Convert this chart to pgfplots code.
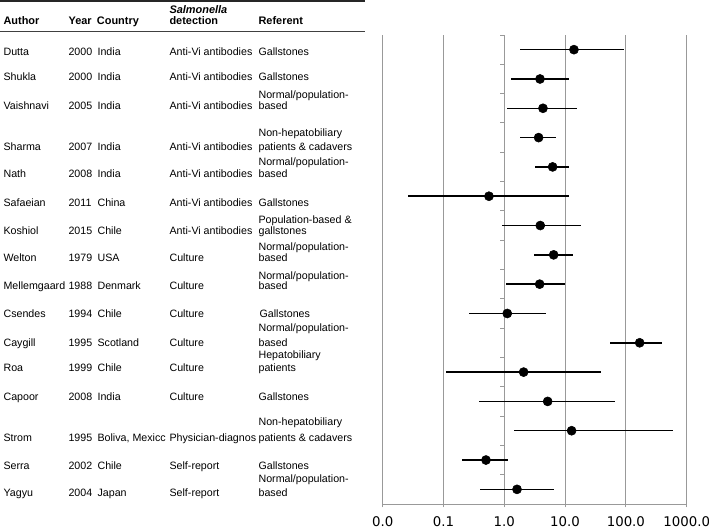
\documentclass[border=0pt]{standalone}
\usepackage{pgfplots}
\usepackage{pgfplotstable}
\pgfplotsset{compat=1.18}
\usepackage{fontspec}
\setmainfont{Liberation Sans}
\newfontfamily\tickfont{DejaVu Sans}

\pgfplotstableread{
row est lo hi
15.5 14.0 1.81 93
14.5 3.87 1.29 11.7
13.5 4.33 1.11 15.9
12.5 3.67 1.81 7.08
11.5 6.24 3.24 11.5
10.5 0.56 0.026 11.5
9.5 3.91 0.906 18.3
8.5 6.49 3.04 13.6
7.5 3.82 1.05 9.85
6.5 1.12 0.263 4.79
5.5 168.7 54.7 388
4.5 2.08 0.11 38.5
3.5 5.17 0.384 66.2
2.5 12.8 1.46 602
1.5 0.50 0.20 1.16
0.5 1.62 0.398 6.49
}\datatable

\begin{document}
\begin{tikzpicture}[x=0.75pt,y=-0.75pt,
  txt/.style={anchor=mid west, inner sep=0pt, font=\fontsize{8}{9.6}\selectfont},
  hdr/.style={anchor=mid west, inner sep=0pt, font=\fontsize{8.2}{9.6}\selectfont\bfseries}]
\path[use as bounding box] (0,0) rectangle (709,528);
\begin{axis}[
  at={(287pt,-378pt)}, anchor=south west,
  scale only axis, width=228pt, height=351.75pt,
  xmode=log, xmin=0.01, xmax=1000,
  ymin=0, ymax=16,
  axis x line*=bottom, axis y line=none,
  ytick=\empty,
  xtick={0.01,0.1,1,10,100,1000},
  xticklabels={0.0,0.1,1.0,10.0,100.0,1000.0},
  xminorticks=false,
  xmajorgrids, grid style={gray!80, line width=0.75pt},
  x axis line style={gray!80, line width=0.75pt},
  xtick style={gray!80, line width=0.75pt},
  tick align=outside, major tick length=2.5pt,
  xticklabel style={font=\tickfont\fontsize{10}{12}\selectfont, yshift=-3.5pt},
  clip=false,
]
\pgfplotsinvokeforeach{0,...,16}{
  \draw[gray!80, line width=0.75pt] (axis cs:1,#1) -- ++(-3.2pt,0pt);
}
\addplot[black, only marks, mark=*, mark size=3.4pt,
  error bars/.cd, x dir=both, x explicit, error mark=none,
  error bar style={line width=1.1pt, black}]
  table[x=est, y=row,
    x error plus expr=\thisrow{hi}-\thisrow{est},
    x error minus expr=\thisrow{est}-\thisrow{lo}] {\datatable};
\end{axis}

% table rules
\draw[line width=1.5pt, black!85] (0,1) -- (365,1);
\draw[line width=1.1pt, black!75] (0,31.7) -- (365,31.7);

% header
\node[anchor=mid west, inner sep=0pt, font=\fontsize{8.2}{9.6}\selectfont\bfseries\itshape] at (169.3,10) {Salmonella};
\node[hdr] at (169.3,21) {detection};
\node[hdr] at (3.3,21.3) {Author};
\node[hdr] at (68.3,21.3) {Year};
\node[hdr] at (96.7,21.3) {Country};
\node[hdr] at (258.3,21) {Referent};

% rows
\foreach \y/\a/\yr/\c/\d in {
  51.7/Dutta/2000/India/Anti-Vi antibodies,
  77.3/Shukla/2000/India/Anti-Vi antibodies,
  106/Vaishnavi/2005/India/Anti-Vi antibodies,
  146.7/Sharma/2007/India/Anti-Vi antibodies,
  174/Nath/2008/India/Anti-Vi antibodies,
  202.7/Safaeian/2011/China/Anti-Vi antibodies,
  231/Koshiol/2015/Chile/Anti-Vi antibodies,
  258.3/Welton/1979/USA/Culture,
  286/Mellemgaard/1988/Denmark/Culture,
  314/Csendes/1994/Chile/Culture,
  342.7/Caygill/1995/Scotland/Culture,
  368.3/Roa/1999/Chile/Culture,
  396.7/Capoor/2008/India/Culture,
  438.3/Strom/1995/{Boliva, Mexicc}/Physician-diagnos,
  466/Serra/2002/Chile/Self-report,
  493.3/Yagyu/2004/Japan/Self-report}{
  \node[txt] at (3.3,\y) {\a};
  \node[txt] at (68.3,\y) {\yr};
  \node[txt] at (97.3,\y) {\c};
  \node[txt] at (169.3,\y) {\d};
}

% referent column
\node[txt] at (258.3,51.7) {Gallstones};
\node[txt] at (258.3,77.3) {Gallstones};
\node[txt] at (258.3,94.7) {Normal/population-};
\node[txt] at (258.3,106) {based};
\node[txt] at (258.3,133.3) {Non-hepatobiliary};
\node[txt] at (258.3,146.7) {patients \& cadavers};
\node[txt] at (258.3,162) {Normal/population-};
\node[txt] at (258.3,174) {based};
\node[txt] at (258.3,202.7) {Gallstones};
\node[txt] at (258.3,220) {Population-based \&};
\node[txt] at (258.3,231) {gallstones};
\node[txt] at (258.3,247.3) {Normal/population-};
\node[txt] at (258.3,258.3) {based};
\node[txt] at (258.3,276) {Normal/population-};
\node[txt] at (258.3,286) {based};
\node[txt] at (259.3,314) {Gallstones};
\node[txt] at (258.3,328.3) {Normal/population-};
\node[txt] at (258.3,342.7) {based};
\node[txt] at (258.3,355) {Hepatobiliary};
\node[txt] at (258.3,368.3) {patients};
\node[txt] at (258.3,396.7) {Gallstones};
\node[txt] at (258.3,421.7) {Non-hepatobiliary};
\node[txt] at (258.3,438.3) {patients \& cadavers};
\node[txt] at (258.3,466) {Gallstones};
\node[txt] at (258.3,479.3) {Normal/population-};
\node[txt] at (258.3,493.3) {based};
\end{tikzpicture}
\end{document}
